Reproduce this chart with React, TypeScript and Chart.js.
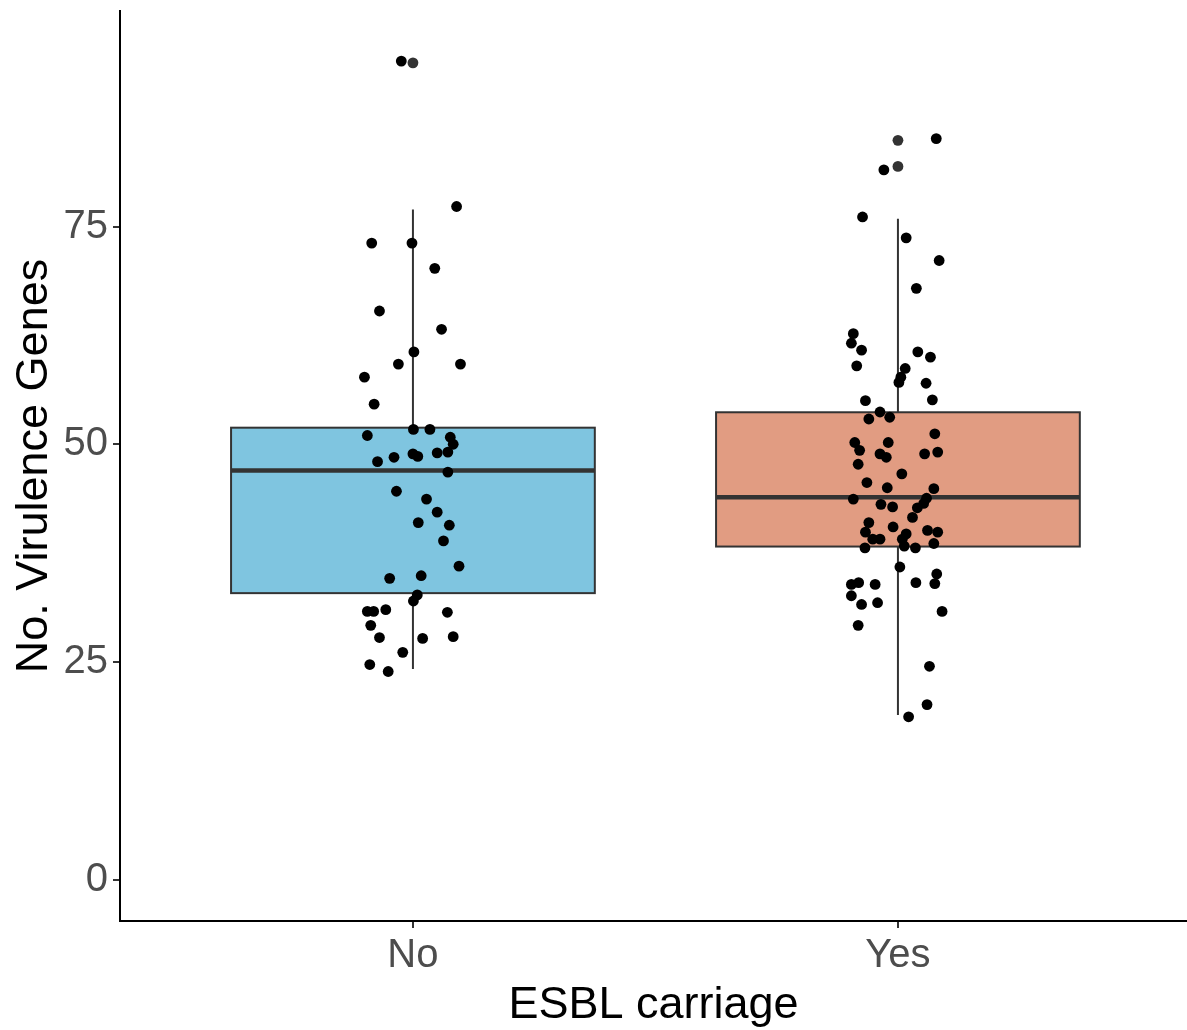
import React, { useEffect, useRef } from "react";
import { Chart, registerables } from "chart.js";

Chart.register(...registerables);

const categories = ["No", "Yes"];
const yTickValues = [0, 25, 50, 75];

// Box statistics
const boxLow = [24.2, 18.9];
const boxQ1 = [32.9, 38.25];
const boxMedian = [46.97, 43.9];
const boxQ3 = [51.9, 53.67];
const boxHigh = [76.95, 75.9];
const boxFill = ["#7FC5E0", "#E19C82"];

// Outliers (drawn by the boxplot at category centre)
const noOutliers = [93.8];
const yesOutliers = [84.9, 81.9];

// Jittered raw points: horizontal jitter offset and value
const noJitter = [
  -0.024, 0.09, -0.085, -0.002, 0.045, -0.069, 0.059, 0.002, -0.03, 0.098,
  -0.1, -0.08, -0.094, 0.001, 0.035, 0.077, 0.083, 0.072, 0.05, 0.0,
  0.01, -0.039, -0.073, 0.072, -0.034, 0.028, 0.05, 0.011, 0.075, 0.063,
  0.095, -0.048, 0.017, 0.009, 0.001, -0.094, -0.081, -0.056, 0.071, -0.087,
  -0.069, 0.02, 0.083, -0.021, -0.089, -0.051,
];
const noValues = [
  94.0, 77.3, 73.1, 73.1, 70.2, 65.3, 63.2, 60.6, 59.2, 59.2,
  57.7, 54.6, 51.0, 51.7, 51.7, 50.8, 50.0, 49.1, 49.0, 48.9,
  48.6, 48.5, 48.0, 46.8, 44.6, 43.7, 42.2, 41.0, 40.7, 38.9,
  36.0, 34.6, 34.9, 32.7, 32.0, 30.8, 30.8, 31.0, 30.7, 29.2,
  27.8, 27.7, 27.9, 26.1, 24.7, 23.9,
];
const yesJitter = [
  0.079, -0.029, -0.073, 0.017, 0.085, 0.038, -0.092, -0.096, -0.075, 0.041,
  0.067, -0.085, 0.015, 0.006, 0.002, 0.058, -0.067, 0.071, -0.037, -0.06,
  -0.017, 0.076, -0.089, -0.079, -0.02, -0.037, -0.024, 0.055, 0.082, -0.082,
  0.008, -0.064, -0.022, 0.074, -0.092, -0.035, -0.011, 0.059, 0.053, 0.04,
  0.03, -0.06, -0.01, -0.067, 0.017, 0.061, 0.082, -0.037, -0.052, 0.009,
  0.074, -0.068, 0.013, 0.036, 0.004, -0.096, -0.081, -0.047, 0.037, 0.08,
  0.076, -0.096, -0.075, -0.042, 0.091, -0.082, 0.065, 0.06, 0.022,
];
const yesValues = [
  85.1, 81.5, 76.1, 73.7, 71.1, 67.9, 62.7, 61.6, 60.8, 60.6,
  60.0, 59.0, 58.7, 57.7, 57.1, 57.0, 55.0, 55.1, 53.7, 52.9,
  53.1, 51.2, 50.2, 49.3, 50.2, 48.9, 48.5, 48.9, 49.1, 47.7,
  46.6, 45.6, 45.0, 44.9, 43.7, 43.1, 42.8, 43.8, 43.2, 42.7,
  41.6, 41.0, 40.5, 39.9, 39.7, 40.1, 39.9, 39.1, 39.1, 39.1,
  38.6, 38.1, 38.3, 38.1, 35.9, 33.9, 34.1, 33.9, 34.1, 35.1,
  34.0, 32.6, 31.6, 31.8, 30.8, 29.2, 24.5, 20.1, 18.7,
];

const FONT = "'Liberation Sans', Arial, sans-serif";

const boxPlugin = {
  id: "boxes",
  beforeDatasetsDraw(chart: any) {
    const { ctx, scales } = chart;
    const xs = scales.x;
    const ys = scales.y;
    const half = 0.375;
    ctx.save();
    for (let i = 0; i < categories.length; i++) {
      const c = i + 1;
      const xc = xs.getPixelForValue(c);
      const xl = xs.getPixelForValue(c - half);
      const xr = xs.getPixelForValue(c + half);
      const yLow = ys.getPixelForValue(boxLow[i]);
      const yQ1 = ys.getPixelForValue(boxQ1[i]);
      const yMed = ys.getPixelForValue(boxMedian[i]);
      const yQ3 = ys.getPixelForValue(boxQ3[i]);
      const yHigh = ys.getPixelForValue(boxHigh[i]);
      ctx.strokeStyle = "#333333";
      ctx.lineWidth = 2;
      ctx.beginPath();
      ctx.moveTo(xc, yQ3);
      ctx.lineTo(xc, yHigh);
      ctx.moveTo(xc, yQ1);
      ctx.lineTo(xc, yLow);
      ctx.stroke();
      ctx.fillStyle = boxFill[i];
      ctx.fillRect(xl, yQ3, xr - xl, yQ1 - yQ3);
      ctx.strokeRect(xl, yQ3, xr - xl, yQ1 - yQ3);
      ctx.lineWidth = 4.5;
      ctx.beginPath();
      ctx.moveTo(xl, yMed);
      ctx.lineTo(xr, yMed);
      ctx.stroke();
    }
    ctx.restore();
  },
};

export default function App() {
  const ref = useRef<HTMLCanvasElement | null>(null);

  useEffect(() => {
    document.body.style.margin = "0";
    const canvas = ref.current;
    if (!canvas) return;
    const jitterPoints = [
      ...noValues.map((v, i) => ({ x: 1 + noJitter[i], y: v })),
      ...yesValues.map((v, i) => ({ x: 2 + yesJitter[i], y: v })),
    ];
    const outlierPoints = [
      ...noOutliers.map((v) => ({ x: 1, y: v })),
      ...yesOutliers.map((v) => ({ x: 2, y: v })),
    ];
    const chart = new Chart(canvas, {
      type: "scatter",
      data: {
        datasets: [
          {
            label: "points",
            data: jitterPoints,
            backgroundColor: "#000000",
            borderWidth: 0,
            pointRadius: 5.4,
            order: 1,
          },
          {
            label: "outliers",
            data: outlierPoints,
            backgroundColor: "#333333",
            borderWidth: 0,
            pointRadius: 5.4,
            order: 2,
          },
        ],
      },
      plugins: [boxPlugin],
      options: {
        responsive: false,
        animation: false,
        layout: { autoPadding: false, padding: { top: 11, right: 0, left: 0, bottom: 0 } },
        plugins: {
          legend: { display: false },
          tooltip: { enabled: false },
        },
        scales: {
          x: {
            type: "linear",
            min: 0.396,
            max: 2.596,
            afterBuildTicks: (s: any) => {
              s.ticks = [{ value: 1 }, { value: 2 }];
            },
            afterFit: (s: any) => {
              s.height = 109;
              s.paddingLeft = 0;
              s.paddingRight = 0;
            },
            ticks: {
              callback: (v: any) => categories[Math.round(Number(v)) - 1] ?? "",
              color: "#4D4D4D",
              font: { family: FONT, size: 40 },
              padding: 4,
              maxRotation: 0,
            },
            grid: {
              display: true,
              drawOnChartArea: false,
              drawTicks: true,
              tickLength: 7,
              color: "#333333",
              lineWidth: 2,
            },
            border: { display: true, color: "#000000", width: 2 },
            title: {
              display: true,
              text: "ESBL carriage",
              color: "#000000",
              font: { family: FONT, size: 45 },
              padding: { top: 0, bottom: -3 },
            },
          },
          y: {
            type: "linear",
            min: -4.75,
            max: 99.75,
            afterBuildTicks: (s: any) => {
              s.ticks = yTickValues.map((v) => ({ value: v }));
            },
            afterFit: (s: any) => {
              s.width = 120;
              s.paddingTop = 0;
              s.paddingBottom = 0;
            },
            ticks: {
              color: "#4D4D4D",
              font: { family: FONT, size: 40 },
              padding: 5,
            },
            grid: {
              display: true,
              drawOnChartArea: false,
              drawTicks: true,
              tickLength: 7,
              color: "#333333",
              lineWidth: 2,
            },
            border: { display: true, color: "#000000", width: 2 },
            title: {
              display: true,
              text: "No. Virulence Genes",
              color: "#000000",
              font: { family: FONT, size: 45 },
              padding: { top: 8, bottom: 0 },
            },
          },
        },
      },
    });
    return () => chart.destroy();
  }, []);

  return (
    <div style={{ width: 1187, height: 1030 }}>
      <canvas ref={ref} width={1187} height={1030} style={{ display: "block" }} />
    </div>
  );
}
